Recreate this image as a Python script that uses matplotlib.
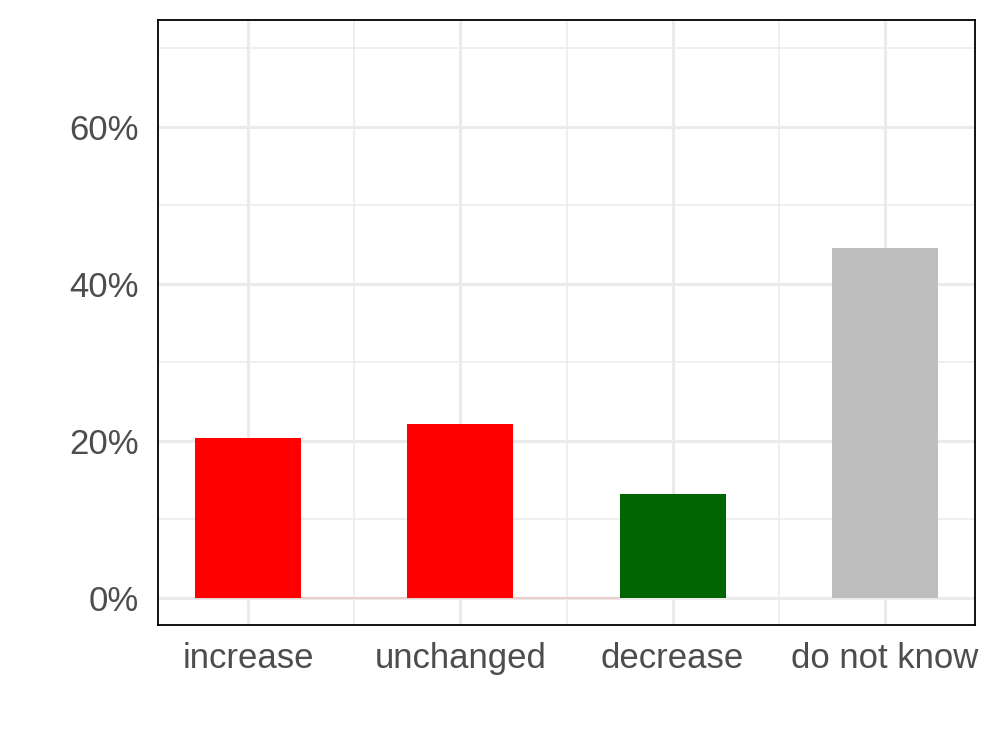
import matplotlib
matplotlib.use("Agg")
import matplotlib.pyplot as plt
from matplotlib.ticker import FixedLocator, FuncFormatter

# data
categories = ["increase", "unchanged", "decrease", "do not know"]
shares = [20.4, 22.2, 13.2, 44.5]
colors = ["#FF0000", "#FF0000", "#006400", "#BEBEBE"]

plt.rcParams['font.family'] = ['Liberation Sans', 'DejaVu Sans']

fig = plt.figure(figsize=(9.96, 7.47), dpi=100)
ax = fig.add_axes([158 / 996, 1 - 625 / 747, (975 - 158) / 996, (625 - 20) / 747])

x = list(range(1, len(categories) + 1))
ax.bar(x, shares, width=0.5, color=colors, zorder=3)

# faint zero line under the red categories
ax.hlines(0, x[0] - 0.25, x[2] - 0.25, color="#FF0000", alpha=0.12, lw=1.5, zorder=2)

ax.set_xlim(0.575, 4.425)
ax.set_ylim(-3.45, 73.6)

ax.yaxis.set_major_locator(FixedLocator([0, 20, 40, 60]))
ax.yaxis.set_minor_locator(FixedLocator([10, 30, 50, 70]))
ax.yaxis.set_major_formatter(FuncFormatter(lambda v, p: f"{v:.0f}%"))
ax.set_xticks(x)
ax.set_xticklabels(categories)
ax.xaxis.set_minor_locator(FixedLocator([1.5, 2.5, 3.5]))

ax.grid(which="major", color="#EBEBEB", lw=2.2, zorder=0)
ax.grid(which="minor", color="#EBEBEB", lw=1.1, zorder=0)
ax.set_axisbelow(True)

ax.tick_params(which="both", length=0)
ax.tick_params(axis="y", labelsize=25, labelcolor="#4D4D4D", pad=14)
ax.tick_params(axis="x", labelsize=25, labelcolor="#4D4D4D", pad=12)

for s in ax.spines.values():
    s.set_color("black")
    s.set_linewidth(1.3)

fig.savefig("out.png", dpi=100)
